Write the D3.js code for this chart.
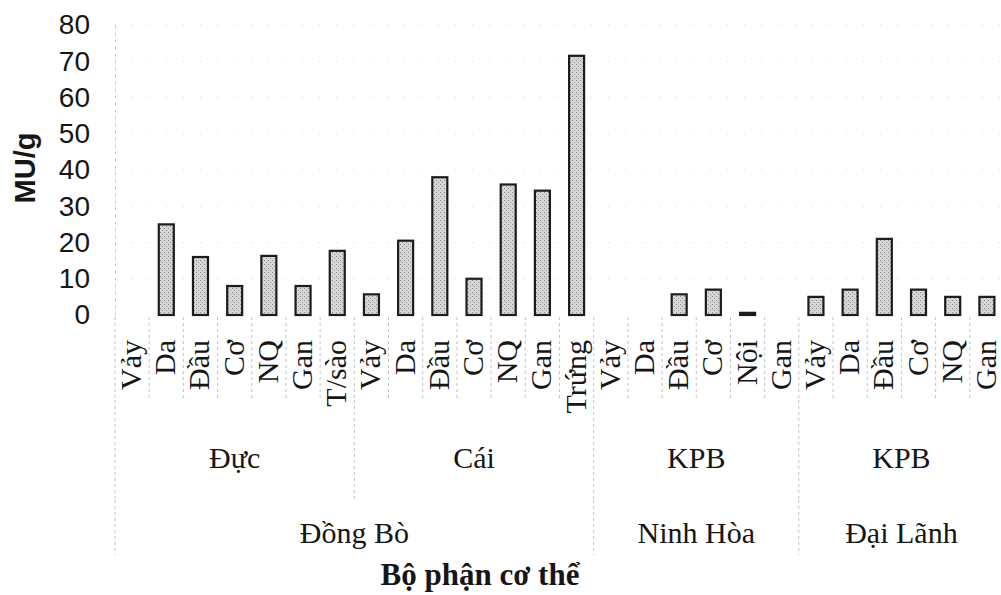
<!DOCTYPE html>
<html>
<head>
<meta charset="utf-8">
<script src="https://cdn.jsdelivr.net/npm/d3@7"></script>
<style>
  body { margin: 0; background: #fff; }
  text { fill: #161616; }
</style>
</head>
<body>
<svg width="1001" height="595"></svg>
<script>
// body part (category), toxicity in MU/g
const parts = ['Vảy','Da','Đầu','Cơ','NQ','Gan','T/sào',
               'Vảy','Da','Đầu','Cơ','NQ','Gan','Trứng',
               'Vảy','Da','Đầu','Cơ','Nội','Gan',
               'Vảy','Da','Đầu','Cơ','NQ','Gan'];
const toxin = [0, 25, 16, 8, 16.3, 8, 17.7,
               5.7, 20.5, 38, 10, 36, 34.3, 71.5,
               0, 0, 5.7, 7, 0.6, 0,
               5, 7, 21, 7, 5, 5];
const sexNames = ['Đực', 'Cái', 'KPB', 'KPB'];
const sexSizes = [7, 7, 6, 6];
const siteNames = ['Đồng Bò', 'Ninh Hòa', 'Đại Lãnh'];
const siteSizes = [14, 6, 6];
const yTicks = [0, 10, 20, 30, 40, 50, 60, 70, 80];

const svg = d3.select('svg');

const x = d3.scaleBand()
    .domain(d3.range(parts.length))
    .range([115, 1004]);
const y = d3.scaleLinear()
    .domain([0, 80])
    .range([315, 25]);
const barW = 15;
const edgeX = k => x.range()[0] + k * x.step();

// stipple fill like the scanned bars
const pat = svg.append('defs').append('pattern')
    .attr('id', 'dots')
    .attr('width', 4).attr('height', 4)
    .attr('patternUnits', 'userSpaceOnUse');
pat.append('rect').attr('width', 4).attr('height', 4).attr('fill', '#d6d6d6');
pat.append('rect').attr('x', 0).attr('y', 0).attr('width', 1).attr('height', 1).attr('fill', '#8a8a8a');
pat.append('rect').attr('x', 2).attr('y', 2).attr('width', 1).attr('height', 1).attr('fill', '#9a9a9a');

// faint dotted gridlines
svg.append('g').selectAll('line').data(yTicks.slice(1))
  .enter().append('line')
    .attr('x1', 115).attr('x2', 1001)
    .attr('y1', d => y(d)).attr('y2', d => y(d))
    .attr('stroke', '#d8d8d8')
    .attr('stroke-dasharray', '1,16');

// y axis
const yAxis = d3.axisLeft(y).tickValues(yTicks).tickSize(0).tickPadding(25);
const yG = svg.append('g').attr('transform', 'translate(115,0)').call(yAxis);
yG.select('.domain').attr('stroke', '#c8c8c8').attr('stroke-dasharray', '3,4');
yG.selectAll('.tick text')
    .attr('font-family', 'Liberation Sans, Arial, sans-serif')
    .attr('font-size', 28)
    .attr('fill', '#161616');

svg.append('text')
    .attr('transform', 'translate(35,168) rotate(-90)')
    .attr('text-anchor', 'middle')
    .attr('font-family', 'Liberation Sans, Arial, sans-serif')
    .attr('font-weight', 'bold')
    .attr('font-size', 29)
    .text('MU/g');

// category separators: part, sex and site levels
const sexEdges = [0].concat(Array.from(d3.cumsum(sexSizes)));
const siteEdges = [0].concat(Array.from(d3.cumsum(siteSizes)));
const sepG = svg.append('g')
    .attr('stroke', '#c4c4c4')
    .attr('stroke-dasharray', '3,3');
sepG.selectAll('line.p').data(d3.range(parts.length + 1))
  .enter().append('line').attr('class', 'p')
    .attr('x1', edgeX).attr('x2', edgeX)
    .attr('y1', 317).attr('y2', 400);
sepG.selectAll('line.s').data(sexEdges)
  .enter().append('line').attr('class', 's')
    .attr('x1', edgeX).attr('x2', edgeX)
    .attr('y1', 400).attr('y2', 500);
sepG.selectAll('line.t').data(siteEdges)
  .enter().append('line').attr('class', 't')
    .attr('x1', edgeX).attr('x2', edgeX)
    .attr('y1', 500).attr('y2', 555);

// bars
svg.append('g').selectAll('rect')
  .data(toxin.map((v, i) => ({ v, i })).filter(d => d.v > 0))
  .enter().append('rect')
    .attr('x', d => x(d.i) + x.bandwidth() / 2 - barW / 2)
    .attr('y', d => y(d.v))
    .attr('width', barW)
    .attr('height', d => y(0) - y(d.v))
    .attr('fill', 'url(#dots)')
    .attr('stroke', '#1c1c1c')
    .attr('stroke-width', 2.2);

// part labels, rotated
svg.append('g').selectAll('text').data(parts)
  .enter().append('text')
    .attr('transform', (d, i) => `translate(${x(i) + x.bandwidth() / 2},340) rotate(-90)`)
    .attr('text-anchor', 'end')
    .attr('dy', '0.3em')
    .attr('font-family', 'Liberation Serif, Times New Roman, serif')
    .attr('font-size', 30)
    .text(d => d);

// sex labels
svg.append('g').selectAll('text').data(sexNames)
  .enter().append('text')
    .attr('x', (d, i) => edgeX((sexEdges[i] + sexEdges[i + 1]) / 2))
    .attr('y', 468)
    .attr('text-anchor', 'middle')
    .attr('font-family', 'Liberation Serif, Times New Roman, serif')
    .attr('font-size', 30)
    .text(d => d);

// site labels
svg.append('g').selectAll('text').data(siteNames)
  .enter().append('text')
    .attr('x', (d, i) => edgeX((siteEdges[i] + siteEdges[i + 1]) / 2))
    .attr('y', 543)
    .attr('text-anchor', 'middle')
    .attr('font-family', 'Liberation Serif, Times New Roman, serif')
    .attr('font-size', 30)
    .text(d => d);

svg.append('text')
    .attr('x', 480).attr('y', 585)
    .attr('text-anchor', 'middle')
    .attr('font-family', 'Liberation Serif, Times New Roman, serif')
    .attr('font-weight', 'bold')
    .attr('font-size', 31)
    .text('Bộ phận cơ thể');
</script>
</body>
</html>
